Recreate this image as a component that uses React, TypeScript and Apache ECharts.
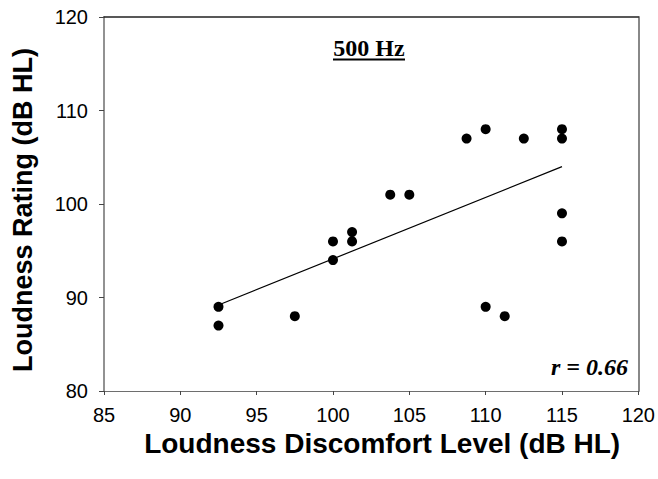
import React, { useEffect, useRef } from "react";
import * as echarts from "echarts";

const xTicks = [85, 90, 95, 100, 105, 110, 115, 120];
const yTicks = [80, 90, 100, 110, 120];
const ldlValues = [92.5, 92.5, 97.5, 100, 100, 101.25, 101.25, 103.75, 105, 108.75, 110, 110, 111.25, 112.5, 115, 115, 115, 115];
const ratingValues = [89, 87, 88, 96, 94, 97, 96, 101, 101, 107, 108, 89, 88, 107, 108, 107, 99, 96];
const fitX = [92.5, 115];
const fitY = [89.2, 104];
const chartTitle = "500 Hz";
const rText = "r = 0.66";
const xName = "Loudness Discomfort Level (dB HL)";
const yName = "Loudness Rating (dB HL)";

export default function App() {
  const ref = useRef<HTMLDivElement>(null);
  useEffect(() => {
    if (!ref.current) return;
    const chart = echarts.init(ref.current, null, { renderer: "svg" });
    const sans = "'Liberation Sans', Arial, sans-serif";
    const serif = "'Liberation Serif', 'Times New Roman', serif";
    chart.setOption({
      animation: false,
      backgroundColor: "#fff",
      grid: { left: 104, right: 19, top: 17, bottom: 88, show: false },
      xAxis: [
        {
          type: "value",
          min: xTicks[0],
          max: xTicks[xTicks.length - 1],
          interval: 5,
          name: xName,
          nameLocation: "middle",
          nameGap: 21,
          nameTextStyle: {
            fontFamily: sans,
            fontWeight: "bold",
            fontSize: 28,
            color: "#000",
            padding: [0, 0, 0, 22],
          },
          axisLine: { show: true, onZero: false, lineStyle: { color: "#6e6e6e", width: 1 } },
          axisTick: { show: true, inside: false, length: 4, lineStyle: { color: "#444" } },
          axisLabel: { fontFamily: sans, fontSize: 20, color: "#000", margin: 14 },
          splitLine: { show: false },
        },
        {
          type: "value",
          position: "top",
          min: xTicks[0],
          max: xTicks[xTicks.length - 1],
          axisLine: { show: true, onZero: false, lineStyle: { color: "#222", width: 1.5 } },
          axisTick: { show: false },
          axisLabel: { show: false },
          splitLine: { show: false },
        },
      ],
      yAxis: [
        {
          type: "value",
          min: yTicks[0],
          max: yTicks[yTicks.length - 1],
          interval: 10,
          name: yName,
          nameLocation: "middle",
          nameGap: 68,
          nameTextStyle: {
            fontFamily: sans,
            fontWeight: "bold",
            fontSize: 27,
            color: "#000",
            padding: [0, 12, 0, 0],
          },
          axisLine: { show: true, onZero: false, lineStyle: { color: "#6e6e6e", width: 1.5 } },
          axisTick: { show: true, inside: false, length: 5, lineStyle: { color: "#444" } },
          axisLabel: { fontFamily: sans, fontSize: 20, color: "#000", margin: 16 },
          splitLine: { show: false },
        },
        {
          type: "value",
          position: "right",
          min: yTicks[0],
          max: yTicks[yTicks.length - 1],
          axisLine: { show: true, onZero: false, lineStyle: { color: "#888", width: 2 } },
          axisTick: { show: false },
          axisLabel: { show: false },
          splitLine: { show: false },
        },
      ],
      graphic: [
        {
          type: "text",
          x: 369,
          y: 48,
          style: {
            text: chartTitle,
            font: `bold 24px ${serif}`,
            fill: "#000",
            textAlign: "center",
            textVerticalAlign: "middle",
          },
        },
        {
          type: "line",
          shape: { x1: 333, y1: 59.5, x2: 405, y2: 59.5 },
          style: { stroke: "#000", lineWidth: 2 },
        },
        {
          type: "text",
          x: 628,
          y: 367,
          style: {
            text: rText,
            font: `italic bold 24px ${serif}`,
            fill: "#000",
            textAlign: "right",
            textVerticalAlign: "middle",
          },
        },
      ],
      series: [
        {
          type: "line",
          data: fitX.map((x, i) => [x, fitY[i]]),
          symbol: "none",
          lineStyle: { color: "#000", width: 1.2 },
          z: 2,
        },
        {
          type: "scatter",
          data: ldlValues.map((x, i) => [x, ratingValues[i]]),
          symbol: "circle",
          symbolSize: 10,
          itemStyle: { color: "#000", opacity: 1 },
          z: 3,
        },
      ],
    });
    return () => chart.dispose();
  }, []);
  return (
    <div
      ref={ref}
      style={{ position: "fixed", left: 0, top: 0, width: 658, height: 479, background: "#fff" }}
    />
  );
}
